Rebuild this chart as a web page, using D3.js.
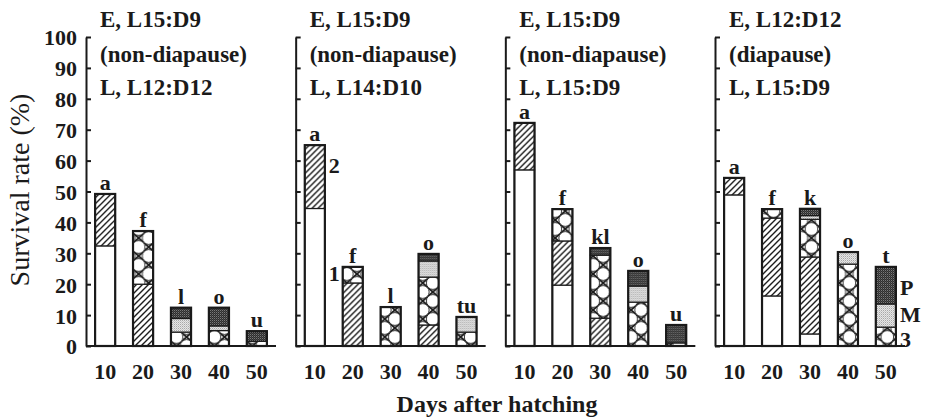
<!DOCTYPE html>
<html>
<head>
<meta charset="utf-8">
<script src="https://cdn.jsdelivr.net/npm/d3@7"></script>
<style>
  body { margin: 0; background: #fff; }
</style>
</head>
<body>
<div id="chart"></div>
<script>
// data (segment heights, % survival)
var days = [10, 20, 30, 40, 50];
var stages = ["1", "2", "3", "M", "P"];
var yTicks = [0, 10, 20, 30, 40, 50, 60, 70, 80, 90, 100];

var panelTitles = [
    ["E, L15:D9", "(non-diapause)", "L, L12:D12"],
    ["E, L15:D9", "(non-diapause)", "L, L14:D10"],
    ["E, L15:D9", "(non-diapause)", "L, L15:D9"],
    ["E, L12:D12", "(diapause)", "L, L15:D9"]
];
var letters = [
    ["a", "f", "l", "o", "u"],
    ["a", "f", "l", "o", "tu"],
    ["a", "f", "kl", "o", "u"],
    ["a", "f", "k", "o", "t"]
];

var stage1 = [[32.4, 0, 0, 0, 0], [44.5, 0, 0, 0, 0], [57, 19.7, 0, 0, 0], [48.9, 16.2, 3.9, 0, 0]];
var stage2 = [[16.8, 20, 0, 0, 0], [20.5, 20.4, 0, 6.8, 0], [15.2, 14.3, 9, 0, 0], [5.5, 25.2, 24.9, 0, 0]];
var stage3 = [[0, 17.2, 4.5, 5, 1.5], [0, 5.2, 12.6, 15.5, 4.5], [0, 10.3, 20.4, 14.2, 1], [0, 2.9, 12.2, 26.5, 6.1]];
var stageM = [[0, 0, 4.4, 1.5, 0], [0, 0, 0, 5.2, 4.9], [0, 0, 0, 5.2, 0], [0, 0, 1.2, 3.9, 7.5]];
var stageP = [[0, 0, 3.5, 5.9, 3.3], [0, 0, 0, 2.3, 0], [0, 0, 2.3, 4.9, 5.8], [0, 0, 2.2, 0, 12]];

// stage labels written beside bars: [panel, dayIndex, label, y value]
var sideLabels = [
    [1, 0, "2", 56],
    [1, 0, "1", 21],
    [3, 4, "P", 16.5],
    [3, 4, "M", 7.8],
    [3, 4, "3", -0.3]
];

var width = 928, height = 420;
var panelWidth = 190;
var serif = "'Liberation Serif'";
var ink = "#1a1a1a";

var svg = d3.select("#chart").append("svg")
    .attr("width", width)
    .attr("height", height);

var defs = svg.append("defs");

var y = d3.scaleLinear()
    .domain([0, 100])
    .range([346, 37]);

var px = d3.scaleBand()
    .domain([0, 1, 2, 3])
    .range([86, 905])
    .paddingInner(0.0938)
    .paddingOuter(0);

var x = d3.scaleBand()
    .domain(days)
    .range([0, panelWidth])
    .paddingInner(0.47)
    .paddingOuter(0.24);

var stack = d3.stack().keys(stages);

// pattern builders, aligned to each bar
function makePattern(id, type, ox, oy, w) {
    var p;
    if (type === "2") {
        p = defs.append("pattern").attr("id", id)
            .attr("patternUnits", "userSpaceOnUse")
            .attr("width", 6).attr("height", 6)
            .attr("patternTransform", "translate(" + ox + "," + oy + ")");
        p.append("rect").attr("width", 6).attr("height", 6).attr("fill", "#fff");
        p.append("path").attr("d", "M-1,1 l2,-2 M0,6 l6,-6 M5,7 l2,-2")
            .attr("stroke", ink).attr("stroke-width", 1.4);
    } else if (type === "3") {
        var h = 18;
        p = defs.append("pattern").attr("id", id)
            .attr("patternUnits", "userSpaceOnUse")
            .attr("width", w).attr("height", h)
            .attr("patternTransform", "translate(" + ox + "," + oy + ")");
        p.append("rect").attr("width", w).attr("height", h).attr("fill", "#fff");
        p.append("path").attr("d", "M0,0 L" + w + "," + h + " M" + w + ",0 L0," + h)
            .attr("stroke", ink).attr("stroke-width", 1.8);
        [[w / 2, 0], [0, h / 2], [w, h / 2], [w / 2, h]].forEach(function (c) {
            p.append("circle").attr("cx", c[0]).attr("cy", c[1]).attr("r", 6.4)
                .attr("fill", "#fff").attr("stroke", ink).attr("stroke-width", 0.9);
        });
    } else if (type === "M" || type === "P") {
        p = defs.append("pattern").attr("id", id)
            .attr("patternUnits", "userSpaceOnUse")
            .attr("width", 2).attr("height", 2);
        p.append("rect").attr("width", 2).attr("height", 2)
            .attr("fill", type === "M" ? "#e6e6e6" : "#2e2e2e");
        p.append("rect").attr("width", 1).attr("height", 1)
            .attr("fill", type === "M" ? "#a8a8a8" : "#7a7a7a");
        p.append("rect").attr("x", 1).attr("y", 1).attr("width", 1).attr("height", 1)
            .attr("fill", type === "M" ? "#c8c8c8" : "#4a4a4a");
    }
}

makePattern("pat-M", "M");
makePattern("pat-P", "P");

var series = [stage1, stage2, stage3, stageM, stageP];

function bold(sel, size) {
    return sel.style("font-family", serif)
        .style("font-size", size + "px")
        .style("font-weight", "bold")
        .attr("fill", ink);
}

panelTitles.forEach(function (titles, p) {
    var g = svg.append("g")
        .attr("transform", "translate(" + px(p) + ",0)");

    var rows = days.map(function (d, i) {
        var r = { day: d };
        stages.forEach(function (s, k) { r[s] = series[k][p][i]; });
        return r;
    });
    var stacked = stack(rows);

    // y-axis (ticks point inward)
    var yAxis = d3.axisLeft(y)
        .tickValues(yTicks)
        .tickSizeInner(-5)
        .tickSizeOuter(0)
        .tickPadding(9);
    if (p > 0) yAxis.tickFormat("");
    var ya = g.append("g").attr("class", "y-axis").call(yAxis);
    ya.select(".domain").attr("stroke", ink).attr("stroke-width", 2);
    ya.selectAll(".tick line").attr("stroke", ink).attr("stroke-width", 2);
    bold(ya.selectAll("text"), 22).attr("dy", "0.36em");

    // bars
    stacked.forEach(function (layer) {
        var s = layer.key;
        g.selectAll(".seg-" + s)
            .data(layer.filter(function (d) { return d[1] - d[0] > 0; }))
            .enter().append("rect")
            .attr("class", "seg-" + s)
            .attr("x", function (d) { return x(d.data.day); })
            .attr("y", function (d) { return y(d[1]); })
            .attr("width", x.bandwidth())
            .attr("height", function (d) { return y(d[0]) - y(d[1]); })
            .attr("fill", function (d) {
                if (s === "1") return "#fff";
                if (s === "M" || s === "P") return "url(#pat-" + s + ")";
                var id = "pat-" + s + "-" + p + "-" + d.data.day;
                makePattern(id, s, px(p) + x(d.data.day), y(0), x.bandwidth());
                return "url(#" + id + ")";
            })
            .attr("stroke", ink)
            .attr("stroke-width", 1.2);
    });

    // bar outlines
    var totals = stacked[stacked.length - 1];
    g.selectAll(".bar-outline")
        .data(totals)
        .enter().append("rect")
        .attr("class", "bar-outline")
        .attr("x", function (d) { return x(d.data.day); })
        .attr("y", function (d) { return y(d[1]); })
        .attr("width", x.bandwidth())
        .attr("height", function (d) { return y(0) - y(d[1]); })
        .attr("fill", "none")
        .attr("stroke", ink)
        .attr("stroke-width", 2.2);

    // significance letters
    bold(g.selectAll(".letter")
        .data(totals)
        .enter().append("text")
        .attr("class", "letter")
        .attr("x", function (d) { return x(d.data.day) + x.bandwidth() / 2; })
        .attr("y", function (d) { return y(d[1]) - 4; })
        .attr("text-anchor", "middle"), 22)
        .text(function (d, i) { return letters[p][i]; });

    // baseline
    g.append("line")
        .attr("x1", 0).attr("x2", panelWidth)
        .attr("y1", y(0)).attr("y2", y(0))
        .attr("stroke", ink)
        .attr("stroke-width", 2);

    // x tick labels
    bold(g.selectAll(".xlab")
        .data(days)
        .enter().append("text")
        .attr("class", "xlab")
        .attr("x", function (d) { return x(d) + x.bandwidth() / 2; })
        .attr("y", 379)
        .attr("text-anchor", "middle"), 22)
        .text(function (d) { return d; });

    // panel titles
    bold(g.selectAll(".title")
        .data(titles)
        .enter().append("text")
        .attr("class", "title")
        .attr("x", 14)
        .attr("y", function (d, i) { return [27, 62, 95][i]; }), 23)
        .text(function (d) { return d; });

    // stage labels beside bars
    bold(g.selectAll(".side")
        .data(sideLabels.filter(function (d) { return d[0] === p; }))
        .enter().append("text")
        .attr("class", "side")
        .attr("x", function (d) { return x(days[d[1]]) + x.bandwidth() + 4; })
        .attr("y", function (d) { return y(d[3]); }), 22)
        .text(function (d) { return d[2]; });
});

// axis titles
svg.append("text")
    .attr("transform", "translate(29,190) rotate(-90)")
    .attr("text-anchor", "middle")
    .style("font-family", serif)
    .style("font-size", "28px")
    .attr("fill", ink)
    .text("Survival rate (%)");

bold(svg.append("text")
    .attr("x", 497)
    .attr("y", 412)
    .attr("text-anchor", "middle"), 24)
    .text("Days after hatching");
</script>
</body>
</html>
